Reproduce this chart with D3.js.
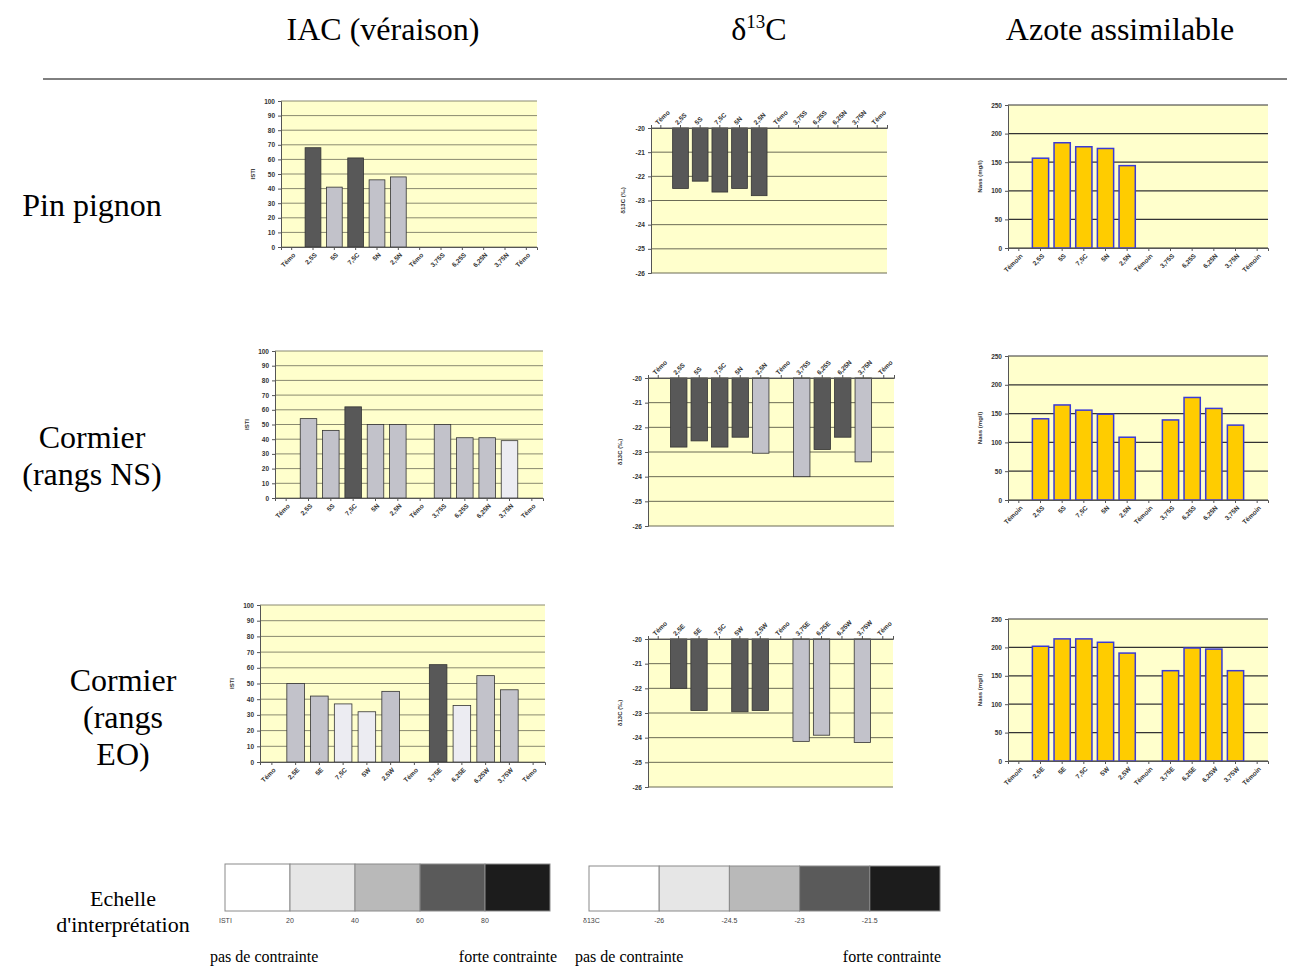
<!DOCTYPE html>
<html>
<head>
<meta charset="utf-8">
<script src="https://cdn.jsdelivr.net/npm/d3@7"></script>
<style>
  html, body { margin: 0; padding: 0; background: #ffffff; }
  svg { display: block; }
  .tick text { font-family: "Liberation Sans", Arial, sans-serif; font-weight: bold; }
</style>
</head>
<body>
<svg id="chart" width="1293" height="967"></svg>
<script>
// ---- categories (x positions along the row) ----
const catsNS  = ["Témo","2,5S","5S","7,5C","5N","2,5N","Témo","3,75S","6,25S","6,25N","3,75N","Témo"];
const catsEO  = ["Témo","2,5E","5E","7,5C","5W","2,5W","Témo","3,75E","6,25E","6,25W","3,75W","Témo"];
const catsAzNS = ["Témoin","2,5S","5S","7,5C","5N","2,5N","Témoin","3,75S","6,25S","6,25N","3,75N","Témoin"];
const catsAzEO = ["Témoin","2,5E","5E","7,5C","5W","2,5W","Témoin","3,75E","6,25E","6,25W","3,75W","Témoin"];

// ---- IAC at véraison (ISTI) ----
const iacPin    = [null, 68, 41, 61, 46, 48, null, null, null, null, null, null];
const iacNS     = [null, 54, 46, 62, 50, 50, null, 50, 41, 41, 39, null];
const iacEO     = [null, 50, 42, 37, 32, 45, null, 62, 36, 55, 46, null];

// ---- delta 13C (‰) ----
const d13Pin    = [null, -22.5, -22.2, -22.65, -22.5, -22.8, null, null, null, null, null, null];
const d13NS     = [null, -22.8, -22.55, -22.8, -22.4, -23.05, null, -24.0, -22.9, -22.4, -23.4, null];
const d13EO     = [null, -22.0, -22.9, null, -22.95, -22.9, null, -24.15, -23.9, null, -24.2, null];

// ---- assimilable nitrogen (mg/l) ----
const azPin     = [null, 157, 184, 177, 174, 144, null, null, null, null, null, null];
const azNS      = [null, 141, 165, 156, 149, 109, null, 139, 178, 159, 130, null];
const azEO      = [null, 202, 215, 215, 209, 190, null, 159, 199, 197, 159, null];

// ---- tick values ----
const iacTicks = [0,10,20,30,40,50,60,70,80,90,100];
const d13Ticks = [-20,-21,-22,-23,-24,-25,-26];
const azTicks  = [0,50,100,150,200,250];

// ---- interpretation scales ----
const greyClasses = ["#ffffff", "#e6e6e6", "#b9b9b9", "#5a5a5a", "#1c1c1c"];
const barGreys    = ["#ffffff", "#ececf2", "#c2c2ca", "#585858", "#1c1c1c"];
const iacBreaks   = [20, 40, 60, 80];
const iacBreakLabels = ["ISTI", "20", "40", "60", "80"];
const d13Breaks   = [-26, -24.5, -23, -21.5];
const d13BreakLabels = ["δ13C", "-26", "-24.5", "-23", "-21.5"];

const iacColor = d3.scaleThreshold().domain(iacBreaks).range(barGreys);
const d13Color = d3.scaleThreshold().domain(d13Breaks).range(barGreys);

const svg = d3.select("#chart");
const SERIF = "'Liberation Serif', 'DejaVu Serif', serif";
const SANS = "'Liberation Sans', Arial, sans-serif";
const PLOT_BG = "#ffffcc";

// ---- column titles ----
svg.append("text").attr("x", 383).attr("y", 40).attr("text-anchor", "middle")
  .attr("font-family", SERIF).attr("font-size", 32).text("IAC (véraison)");
const dt = svg.append("text").attr("x", 759).attr("y", 40).attr("text-anchor", "middle")
  .attr("font-family", SERIF).attr("font-size", 32);
dt.append("tspan").text("δ");
dt.append("tspan").attr("font-size", 19).attr("dy", -12).text("13");
dt.append("tspan").attr("dy", 12).text("C");
svg.append("text").attr("x", 1120).attr("y", 40).attr("text-anchor", "middle")
  .attr("font-family", SERIF).attr("font-size", 32).text("Azote assimilable");

svg.append("line").attr("x1", 43).attr("x2", 1287).attr("y1", 79).attr("y2", 79)
  .attr("stroke", "#000").attr("stroke-width", 1);

// ---- row labels ----
function rowLabel(lines, cx, y0, step) {
  const t = svg.append("text").attr("text-anchor", "middle")
    .attr("font-family", SERIF).attr("font-size", 32);
  lines.forEach((l, i) => t.append("tspan").attr("x", cx).attr("y", y0 + i * step).text(l));
}
rowLabel(["Pin pignon"], 92, 216, 0);
rowLabel(["Cormier", "(rangs NS)"], 92, 448, 37);
rowLabel(["Cormier", "(rangs", "EO)"], 123, 691, 37);

// ---- generic bar panel ----
function panel(o) {
  const g = svg.append("g");
  const x = d3.scaleBand().domain(d3.range(o.cats.length)).range([o.x0, o.x1]).paddingInner(o.pad).paddingOuter(o.pad / 2);
  const y = d3.scaleLinear().domain(o.domain).range([o.y1, o.y0]);
  g.append("rect").attr("x", o.x0).attr("y", o.y0).attr("width", o.x1 - o.x0).attr("height", o.y1 - o.y0)
    .attr("fill", PLOT_BG);
  // gridlines
  g.selectAll(".grid").data(o.ticks).join("line")
    .attr("x1", o.x0).attr("x2", o.x1)
    .attr("y1", d => y(d)).attr("y2", d => y(d))
    .attr("stroke", o.gridColor).attr("stroke-width", o.gridWidth);
  // bars
  const base = o.base;
  const data = o.values.map((v, i) => ({ i, v })).filter(d => d.v !== null);
  g.selectAll(".bar").data(data).join("rect")
    .attr("x", d => x(d.i))
    .attr("width", x.bandwidth())
    .attr("y", d => Math.min(y(d.v), y(base)))
    .attr("height", d => Math.abs(y(d.v) - y(base)))
    .attr("fill", d => o.fill(d.v))
    .attr("stroke", o.stroke).attr("stroke-width", o.strokeWidth);
  // y axis
  const ya = g.append("g").attr("transform", `translate(${o.x0},0)`)
    .call(d3.axisLeft(y).tickValues(o.ticks).tickSize(3).tickFormat(o.yFmt || (d => d)));
  ya.select(".domain").attr("stroke", "#555");
  ya.selectAll(".tick line").attr("stroke", "#555");
  ya.selectAll(".tick text").attr("font-size", 6.5).attr("fill", "#333");
  // x axis
  const xAxisY = o.xTop ? o.y0 : o.y1;
  const axisGen = o.xTop ? d3.axisTop(x) : d3.axisBottom(x);
  const xa = g.append("g").attr("transform", `translate(0,${xAxisY})`)
    .call(axisGen.tickSize(3).tickFormat(i => o.cats[i]));
  xa.select(".domain").attr("stroke", "#555");
  xa.selectAll(".tick line").attr("stroke", "#555");
  const xt = xa.selectAll(".tick text").attr("font-size", 6.5).attr("fill", "#333");
  if (o.xTop) {
    xt.attr("text-anchor", "start").attr("dy", 0).attr("y", -4).attr("x", 0)
      .attr("transform", "rotate(-45)");
  } else {
    xt.attr("text-anchor", "end").attr("dy", 0).attr("y", 9).attr("x", -3)
      .attr("transform", "rotate(-45)");
  }
  // y title
  g.append("text")
    .attr("transform", `translate(${o.x0 - 26},${(o.y0 + o.y1) / 2}) rotate(-90)`)
    .attr("text-anchor", "middle").attr("font-family", SANS).attr("font-weight", "bold")
    .attr("font-size", 6).attr("fill", "#333")
    .text(o.yTitle);
}

function iacPanel(vals, cats, x0, x1, y0, y1) {
  panel({ cats, values: vals, x0, x1, y0, y1, domain: [0, 100], ticks: iacTicks, base: 0,
    pad: 0.26, gridColor: "#8a8a70", gridWidth: 1, fill: v => iacColor(v),
    stroke: "#333", strokeWidth: 0.8, yTitle: "ISTI", xTop: false });
}
function d13Panel(vals, cats, x0, x1, y0, y1) {
  panel({ cats, values: vals, x0, x1, y0, y1, domain: [-26, -20], ticks: d13Ticks, base: -20,
    pad: 0.2, gridColor: "#6b6b55", gridWidth: 1, fill: v => d13Color(v),
    stroke: "#333", strokeWidth: 0.8, yTitle: "δ13C (‰)", xTop: true });
}
function azPanel(vals, cats, x0, x1, y0, y1) {
  panel({ cats, values: vals, x0, x1, y0, y1, domain: [0, 250], ticks: azTicks, base: 0,
    pad: 0.25, gridColor: "#333", gridWidth: 1.2, fill: () => "#ffcc00",
    stroke: "#3a3ad6", strokeWidth: 1.5, yTitle: "Nass (mg/l)", xTop: false });
}

// row 1 : Pin pignon
iacPanel(iacPin, catsNS, 281, 537, 101, 247);
d13Panel(d13Pin, catsNS, 651, 887, 128, 273);
azPanel(azPin, catsAzNS, 1008, 1268, 105, 248);
// row 2 : Cormier NS
iacPanel(iacNS, catsNS, 275, 543, 351, 498);
d13Panel(d13NS, catsNS, 648, 894, 378, 526);
azPanel(azNS, catsAzNS, 1008, 1268, 356, 500);
// row 3 : Cormier EO
iacPanel(iacEO, catsEO, 260, 545, 605, 762);
d13Panel(d13EO, catsEO, 648, 893, 639, 787);
azPanel(azEO, catsAzEO, 1008, 1268, 619, 761);

// ---- interpretation scale ----
const eg = svg.append("text").attr("text-anchor", "middle").attr("font-family", SERIF).attr("font-size", 22);
eg.append("tspan").attr("x", 123).attr("y", 906).text("Echelle");
eg.append("tspan").attr("x", 123).attr("y", 932).text("d'interprétation");

function scaleBar(x0, x1, y0, y1, labels, leftTxtX, rightTxtX) {
  const b = d3.scaleBand().domain(d3.range(greyClasses.length)).range([x0, x1]);
  svg.append("g").selectAll("rect").data(greyClasses).join("rect")
    .attr("x", (d, i) => b(i)).attr("y", y0).attr("width", b.bandwidth()).attr("height", y1 - y0)
    .attr("fill", d => d).attr("stroke", "#8a8a8a").attr("stroke-width", 1);
  svg.append("g").selectAll("text").data(labels).join("text")
    .attr("x", (d, i) => b(i) + (i === 0 ? -6 : 0)).attr("y", y1 + 12)
    .attr("font-family", SANS).attr("font-size", 7).attr("fill", "#444")
    .attr("text-anchor", (d, i) => i === 0 ? "start" : "middle")
    .text(d => d);
  svg.append("text").attr("x", leftTxtX).attr("y", 962).attr("font-family", SERIF).attr("font-size", 16)
    .text("pas de contrainte");
  svg.append("text").attr("x", rightTxtX).attr("y", 962).attr("text-anchor", "end")
    .attr("font-family", SERIF).attr("font-size", 16).text("forte contrainte");
}
scaleBar(225, 550, 864, 911, iacBreakLabels, 210, 557);
scaleBar(589, 940, 866, 911, d13BreakLabels, 575, 941);
</script>
</body>
</html>
